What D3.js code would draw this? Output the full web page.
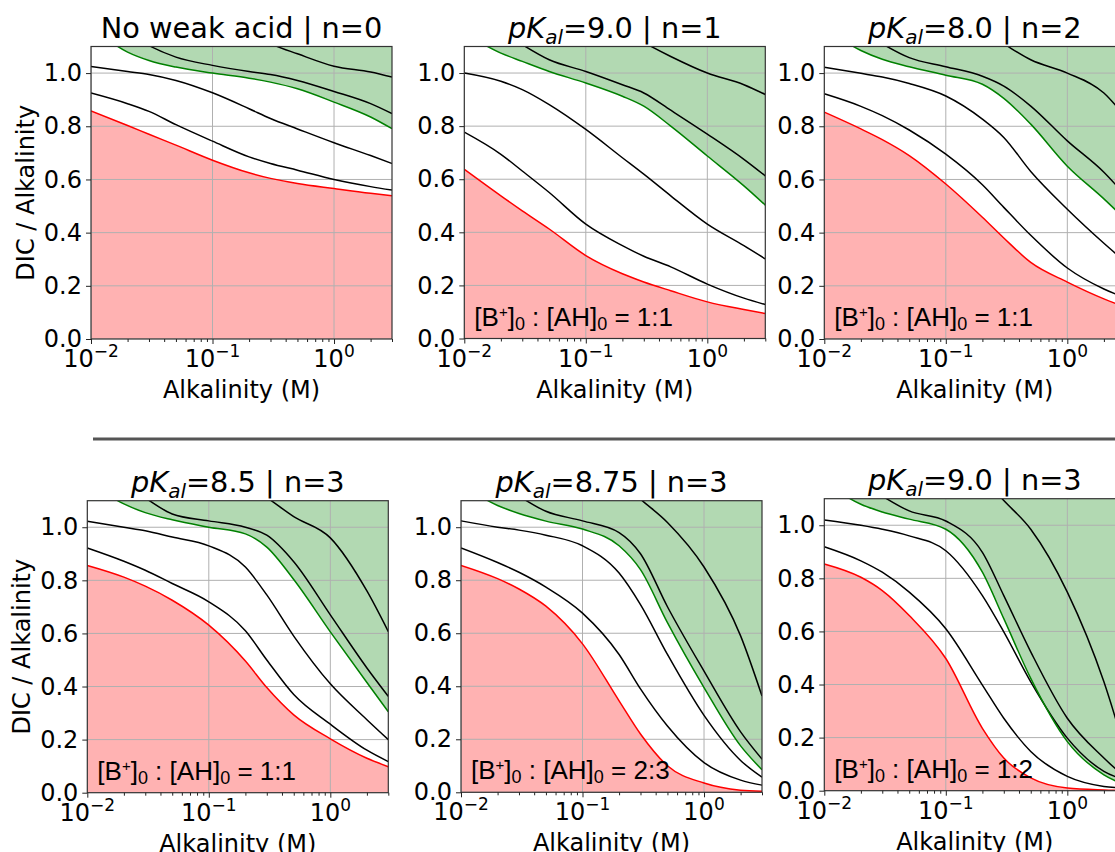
<!DOCTYPE html>
<html lang="en">
<head>
<meta charset="utf-8">
<script src="https://d3js.org/d3.v7.min.js"></script>
<style type="text/css">
body { margin: 0; background: #fff; }
svg { display: block; font-family: "DejaVu Sans", sans-serif; }
.axis text { font: 24px "DejaVu Sans"; fill: #000; }
.axis line { stroke: #222; }
.axis path { display: none; }
.ratio { font-family: "Liberation Sans", Arial, sans-serif; }
</style>
</head>
<body>
<div id="chart"></div>
<script type="text/javascript">

// shared alkalinity grid (M)
var alk = [0.01, 0.02, 0.03, 0.05, 0.1, 0.2, 0.3, 0.5, 1, 2, 3];

// No weak acid | n=0
var n0Red   = [0.8575, 0.803, 0.77, 0.729, 0.6725, 0.625, 0.604, 0.585, 0.566, 0.548, 0.539];
var n0Green = [1.17, 1.079, 1.0475, 1.0225, 1.0, 0.981, 0.966, 0.941, 0.891, 0.835, 0.791];
var n0Black = [
  [null, null, null, null, null, 1.15, 1.11, 1.0725, 1.026, 1.004, 0.985],
  [null, 1.15, 1.103, 1.06, 1.029, 1.006, 0.995, 0.9725, 0.931, 0.885, 0.8475],
  [1.025, 1.006, 0.995, 0.9725, 0.926, 0.866, 0.829, 0.79, 0.738, 0.69, 0.66],
  [0.925, 0.885, 0.856, 0.806, 0.744, 0.685, 0.66, 0.635, 0.6, 0.573, 0.56]
];

// pKal=9.0 | n=1
var p90n1Red   = [0.6375, 0.5375, 0.481, 0.4125, 0.3125, 0.244, 0.213, 0.18, 0.138, 0.109, 0.094];
var p90n1Green = [1.15, 1.075, 1.044, 1.006, 0.9625, 0.9125, 0.875, 0.8, 0.6875, 0.575, 0.5025];
var p90n1Black = [
  [null, null, null, null, null, 1.16, 1.115, 1.0625, 1.0, 0.956, 0.919],
  [null, 1.16, 1.107, 1.05, 1.006, 0.956, 0.925, 0.86, 0.77, 0.675, 0.6125],
  [1.0, 0.969, 0.9375, 0.881, 0.7875, 0.681, 0.619, 0.5375, 0.431, 0.35, 0.3],
  [0.7775, 0.694, 0.631, 0.55, 0.431, 0.35, 0.31, 0.27, 0.205, 0.152, 0.128]
];

// pKal=8.0 | n=2
var p80n2Red   = [0.853, 0.79, 0.75, 0.69, 0.583, 0.458, 0.38, 0.288, 0.214, 0.151, 0.12];
var p80n2Green = [1.17, 1.085, 1.052, 1.024, 0.992, 0.958, 0.905, 0.808, 0.65, 0.527, 0.45];
var p80n2Black = [
  [null, null, null, null, null, 1.16, 1.11, 1.05, 1.0, 0.925, 0.835],
  [null, 1.16, 1.11, 1.058, 1.024, 0.988, 0.951, 0.876, 0.745, 0.627, 0.54],
  [1.022, 0.999, 0.985, 0.961, 0.914, 0.827, 0.758, 0.63, 0.488, 0.36, 0.29],
  [0.922, 0.875, 0.84, 0.786, 0.695, 0.58, 0.495, 0.39, 0.267, 0.188, 0.155]
];

// pKal=8.5 | n=3
var p85n3Red   = [0.856, 0.812, 0.778, 0.725, 0.631, 0.496, 0.396, 0.293, 0.203, 0.13, 0.098];
var p85n3Green = [1.17, 1.088, 1.055, 1.028, 1.0, 0.975, 0.925, 0.803, 0.606, 0.415, 0.305];
var p85n3Black = [
  [null, null, null, null, null, 1.165, 1.112, 1.04, 0.96, 0.76, 0.607],
  [null, 1.16, 1.11, 1.05, 1.024, 1.0, 0.97, 0.87, 0.67, 0.47, 0.363],
  [1.023, 1.0, 0.987, 0.963, 0.93, 0.85, 0.745, 0.59, 0.41, 0.275, 0.2],
  [0.922, 0.872, 0.838, 0.788, 0.719, 0.61, 0.5, 0.37, 0.258, 0.16, 0.117]
];

// pKal=8.75 | n=3
var p875n3Red   = [0.856, 0.806, 0.767, 0.702, 0.56, 0.345, 0.22, 0.1, 0.035, 0.008, 0.004];
var p875n3Green = [1.16, 1.082, 1.052, 1.023, 0.993, 0.93, 0.84, 0.64, 0.395, 0.175, 0.085];
var p875n3Black = [
  [null, null, null, null, null, 1.18, 1.106, 1.018, 0.85, 0.59, 0.363],
  [null, 1.163, 1.117, 1.06, 1.024, 0.98, 0.9, 0.7, 0.457, 0.228, 0.125],
  [1.024, 1.0, 0.989, 0.97, 0.93, 0.827, 0.708, 0.52, 0.29, 0.12, 0.057],
  [0.922, 0.867, 0.83, 0.774, 0.676, 0.52, 0.39, 0.25, 0.112, 0.046, 0.027]
];

// pKal=9.0 | n=3
var p90n3Red   = [0.854, 0.804, 0.754, 0.66, 0.498, 0.235, 0.123, 0.048, 0.01, 0.003, 0.001];
var p90n3Green = [1.16, 1.079, 1.05, 1.023, 0.985, 0.823, 0.648, 0.423, 0.185, 0.06, 0.022];
var p90n3Black = [
  [null, null, null, null, null, 1.18, 1.093, 0.985, 0.748, 0.41, 0.15],
  [null, 1.16, 1.11, 1.054, 1.016, 0.898, 0.735, 0.523, 0.273, 0.123, 0.05],
  [1.02, 1.0, 0.985, 0.96, 0.904, 0.735, 0.598, 0.41, 0.198, 0.073, 0.04],
  [0.919, 0.866, 0.823, 0.748, 0.61, 0.398, 0.273, 0.148, 0.054, 0.016, 0.01]
];

// titles and notes
var pKal   = [null, "9.0", "8.0", "8.5", "8.75", "9.0"];
var nAcid  = [0, 1, 2, 3, 3, 3];
var ratios = [null, "1:1", "1:1", "1:1", "2:3", "1:2"];

var xMajor = [0.01, 0.1, 1];
var xExp   = ["\u22122", "\u22121", "0"];
var xMinor = [0.02,0.03,0.04,0.05,0.06,0.07,0.08,0.09,0.2,0.3,0.4,0.5,0.6,0.7,0.8,0.9,2,3];
var yTicks = [0, 0.2, 0.4, 0.6, 0.8, 1.0];

var panels = [
  { red: n0Red, green: n0Green, black: n0Black },
  { red: p90n1Red, green: p90n1Green, black: p90n1Black },
  { red: p80n2Red, green: p80n2Green, black: p80n2Black },
  { red: p85n3Red, green: p85n3Green, black: p85n3Black },
  { red: p875n3Red, green: p875n3Green, black: p875n3Black },
  { red: p90n3Red, green: p90n3Green, black: p90n3Black }
];

// plot boxes (left, top, bottom)
var boxes = [
  [91, 46.5, 339], [464.3, 46.5, 338.5], [824.3, 46.5, 339],
  [87.3, 500.7, 792.7], [461, 500.7, 792.3], [824.3, 498.7, 790.7]
];
var pw = 301;

var width = 1115, height = 852;

var svg = d3.select("#chart")
  .append("svg")
  .attr("width", width)
  .attr("height", height);

// row separator
svg.append("line")
  .attr("x1", 93).attr("x2", width)
  .attr("y1", 439).attr("y2", 439)
  .style("stroke", "#555")
  .style("stroke-width", 3);

panels.forEach(function(p, i) {
  var left = boxes[i][0], top = boxes[i][1], ph = boxes[i][2] - boxes[i][1];

  var x = d3.scaleLog().domain([0.01, 3]).range([0, pw]);
  var y = d3.scaleLinear().domain([0, 1.1]).range([ph, 0]);

  var g = svg.append("g").attr("transform", "translate(" + left + "," + top + ")");

  g.append("clipPath").attr("id", "clip" + i)
    .append("rect").attr("width", pw).attr("height", ph);

  var plot = g.append("g").attr("clip-path", "url(#clip" + i + ")");

  var pts = function(vals) {
    return alk.map(function(a, k) { return [a, vals[k]]; });
  };
  var ok = function(d) { return d[1] !== null; };

  var redArea = d3.area().defined(ok)
    .x(function(d) { return x(d[0]); })
    .y0(ph)
    .y1(function(d) { return y(d[1]); })
    .curve(d3.curveMonotoneX);

  var greenArea = d3.area().defined(ok)
    .x(function(d) { return x(d[0]); })
    .y0(function(d) { return y(d[1]); })
    .y1(0)
    .curve(d3.curveMonotoneX);

  var line = d3.line().defined(ok)
    .x(function(d) { return x(d[0]); })
    .y(function(d) { return y(d[1]); })
    .curve(d3.curveMonotoneX);

  plot.append("path").attr("d", redArea(pts(p.red))).style("fill", "#ffb2b2");
  plot.append("path").attr("d", greenArea(pts(p.green))).style("fill", "#b2d9b2");

  // grid
  plot.selectAll("line.gx").data(xMajor).enter().append("line")
    .attr("x1", function(d) { return x(d); }).attr("x2", function(d) { return x(d); })
    .attr("y1", 0).attr("y2", ph)
    .style("stroke", "#b0b0b0").style("stroke-width", 1);
  plot.selectAll("line.gy").data(yTicks).enter().append("line")
    .attr("x1", 0).attr("x2", pw)
    .attr("y1", function(d) { return y(d); }).attr("y2", function(d) { return y(d); })
    .style("stroke", "#b0b0b0").style("stroke-width", 1);

  p.black.forEach(function(b) {
    plot.append("path").attr("d", line(pts(b)))
      .style("fill", "none").style("stroke", "#000").style("stroke-width", 1.5);
  });
  plot.append("path").attr("d", line(pts(p.green)))
    .style("fill", "none").style("stroke", "#008000").style("stroke-width", 1.5);
  plot.append("path").attr("d", line(pts(p.red)))
    .style("fill", "none").style("stroke", "#ff0000").style("stroke-width", 1.5);

  // frame
  g.append("rect").attr("width", pw).attr("height", ph)
    .style("fill", "none").style("stroke", "#333").style("stroke-width", 1.2);

  // axes
  g.append("g").attr("class", "axis")
    .attr("transform", "translate(0," + ph + ")")
    .call(d3.axisBottom(x).tickValues(xMinor).tickSize(3).tickFormat(""));
  g.append("g").attr("class", "axis")
    .attr("transform", "translate(0," + ph + ")")
    .call(d3.axisBottom(x).tickValues(xMajor).tickSize(5).tickFormat(""));
  g.append("g").attr("class", "axis")
    .call(d3.axisLeft(y).tickValues(yTicks).tickSize(5).tickPadding(4).tickFormat(d3.format(".1f")));

  xMajor.forEach(function(v, k) {
    var t = g.append("text")
      .attr("x", x(v)).attr("y", ph + 28)
      .attr("text-anchor", "middle")
      .style("font-size", "24px");
    t.append("tspan").text("10");
    t.append("tspan").attr("dy", -10).style("font-size", "17px").text(xExp[k]);
  });

  g.append("text")
    .attr("x", pw / 2).attr("y", ph + 59)
    .attr("text-anchor", "middle")
    .style("font-size", "24px")
    .text("Alkalinity (M)");

  if (i % 3 === 0) {
    g.append("text")
      .attr("transform", "translate(" + (-57) + "," + (ph / 2) + ") rotate(-90)")
      .attr("text-anchor", "middle")
      .style("font-size", "24px")
      .text("DIC / Alkalinity");
  }

  // title
  var title = g.append("text")
    .attr("x", pw / 2).attr("y", -9)
    .attr("text-anchor", "middle")
    .style("font-size", "28.8px");
  if (pKal[i] === null) {
    title.text("No weak acid | n=" + nAcid[i]);
  } else {
    title.append("tspan").style("font-style", "italic").text("pK");
    title.append("tspan").style("font-style", "italic").style("font-size", "20px")
      .attr("dy", 6).text("al");
    title.append("tspan").attr("dy", -6).text("=" + pKal[i] + " | n=" + nAcid[i]);
  }

  // ratio note
  if (ratios[i] !== null) {
    var r = g.append("text").attr("class", "ratio")
      .attr("x", 10).attr("y", ph - 13)
      .style("font-size", "26px");
    r.append("tspan").text("[B");
    r.append("tspan").attr("dy", -9).style("font-size", "15px").text("+");
    r.append("tspan").attr("dy", 9).text("]");
    r.append("tspan").attr("dy", 4).style("font-size", "18px").text("0");
    r.append("tspan").attr("dy", -4).text(" : [AH]");
    r.append("tspan").attr("dy", 4).style("font-size", "18px").text("0");
    r.append("tspan").attr("dy", -4).text(" = " + ratios[i]);
  }
});
</script>
</body>
</html>
